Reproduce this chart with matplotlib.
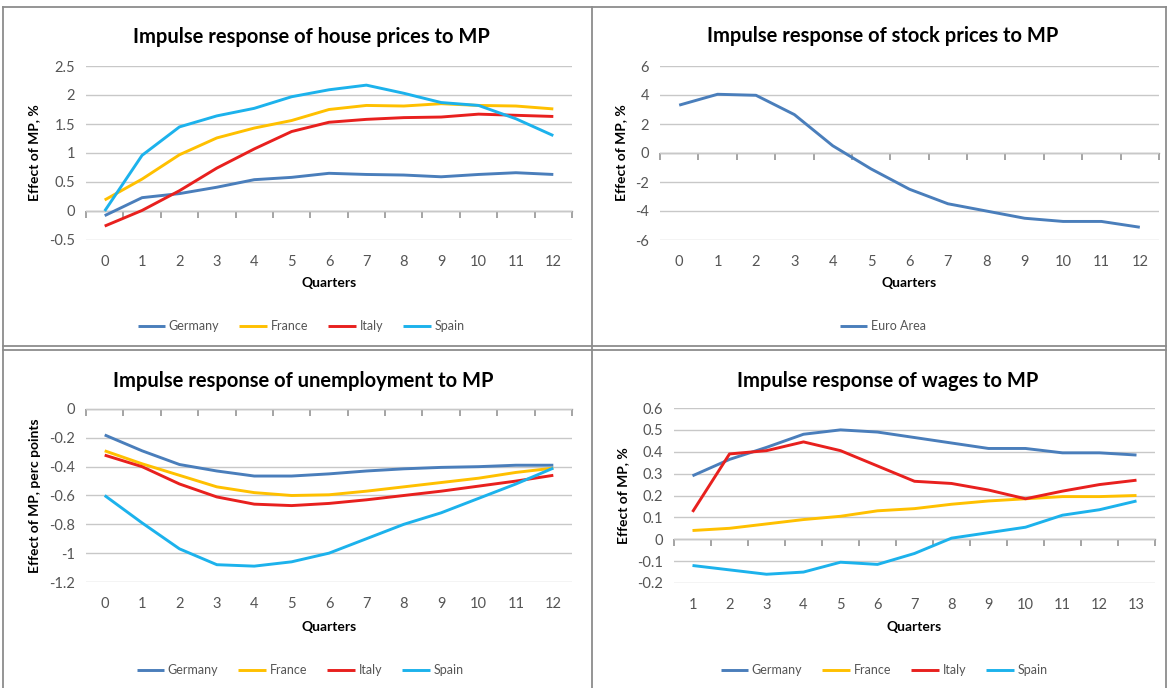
import matplotlib
matplotlib.use("Agg")
import matplotlib.pyplot as plt
from matplotlib.lines import Line2D

plt.rcParams['font.family'] = ['Lato', 'DejaVu Sans']

# ---------------- data ----------------
quarters0 = list(range(0, 13))
quarters1 = list(range(1, 14))

house_germany = [-0.08, 0.23, 0.30, 0.41, 0.54, 0.58, 0.65, 0.63, 0.62, 0.59, 0.63, 0.66, 0.63]
house_france = [0.19, 0.55, 0.97, 1.26, 1.43, 1.56, 1.75, 1.82, 1.81, 1.85, 1.82, 1.81, 1.76]
house_italy = [-0.26, 0.01, 0.35, 0.74, 1.07, 1.37, 1.53, 1.58, 1.61, 1.62, 1.67, 1.65, 1.63]
house_spain = [0.00, 0.96, 1.45, 1.64, 1.77, 1.97, 2.09, 2.17, 2.03, 1.87, 1.82, 1.59, 1.30]

stock_euro = [3.30, 4.05, 3.98, 2.65, 0.50, -1.10, -2.50, -3.50, -4.00, -4.50, -4.72, -4.72, -5.12]

unemp_germany = [-0.18, -0.29, -0.385, -0.43, -0.465, -0.465, -0.45, -0.43, -0.415, -0.405, -0.40, -0.39, -0.39]
unemp_france = [-0.29, -0.38, -0.46, -0.54, -0.58, -0.60, -0.595, -0.57, -0.54, -0.51, -0.48, -0.44, -0.41]
unemp_italy = [-0.32, -0.40, -0.52, -0.61, -0.66, -0.67, -0.655, -0.63, -0.60, -0.57, -0.535, -0.50, -0.46]
unemp_spain = [-0.60, -0.79, -0.97, -1.08, -1.09, -1.06, -1.00, -0.90, -0.80, -0.72, -0.62, -0.52, -0.41]

wage_germany = [0.29, 0.365, 0.42, 0.48, 0.50, 0.49, 0.465, 0.44, 0.415, 0.415, 0.395, 0.395, 0.385]
wage_france = [0.04, 0.05, 0.07, 0.09, 0.105, 0.13, 0.14, 0.16, 0.175, 0.185, 0.195, 0.195, 0.20]
wage_italy = [0.125, 0.39, 0.405, 0.445, 0.405, 0.335, 0.265, 0.255, 0.225, 0.185, 0.22, 0.25, 0.27]
wage_spain = [-0.12, -0.14, -0.16, -0.15, -0.105, -0.115, -0.065, 0.005, 0.03, 0.055, 0.11, 0.135, 0.175]

countries = ['Germany', 'France', 'Italy', 'Spain']
colors = {'Germany': '#4A7EBB', 'France': '#FFC000', 'Italy': '#E8201E',
          'Spain': '#1CB2EC', 'Euro Area': '#4A7EBB'}

W, H = 1168, 688
fig = plt.figure(figsize=(W / 100, H / 100), dpi=100)


def rect(left, right, top, bottom):
    return [left / W, 1 - bottom / H, (right - left) / W, (bottom - top) / H]


def fig_line(x0, y0, x1, y1):
    fig.add_artist(Line2D([x0 / W, x1 / W], [1 - y0 / H, 1 - y1 / H],
                          transform=fig.transFigure, color='#8c8c8c', lw=1.3))


TICK_C = '#555555'


def panel(box, x, series, yticks, ylabel, title, title_xy, xlab_y, legend_xy):
    ax = fig.add_axes(rect(*box))
    for name, vals in series:
        ax.plot(x, vals, color=colors[name], lw=2.1, label=name,
                solid_capstyle='butt', solid_joinstyle='round', zorder=3)
    ax.set_xlim(x[0] - 0.5, x[-1] + 0.5)
    ax.set_ylim(yticks[0], yticks[-1])
    ax.set_yticks(yticks)
    ax.set_yticklabels([('%g' % v) for v in yticks])
    ax.set_xticks(x)
    ax.set_xticklabels([str(v) for v in x])
    for s in ax.spines.values():
        s.set_visible(False)
    ax.grid(axis='y', color='#c8c8c8', lw=1.0)
    ax.set_axisbelow(True)
    ax.tick_params(axis='x', length=0, pad=11, labelsize=10.5, labelcolor=TICK_C)
    ax.tick_params(axis='y', length=0, pad=8, labelsize=10.5, labelcolor=TICK_C)
    # category axis crossing at zero with tick marks between categories
    y0, y1 = yticks[0], yticks[-1]
    loc = (0 - y0) / (y1 - y0)
    sec = ax.secondary_xaxis(loc)
    sec.set_alignment('bottom')
    sec.set_xticks([v - 0.5 for v in x] + [x[-1] + 0.5])
    sec.set_xticklabels([])
    sec.tick_params(direction='out', length=5, color='#8c8c8c', width=1.1)
    for k, s in sec.spines.items():
        s.set_color('#a6a6a6')
        s.set_linewidth(1)
    ax.set_ylabel(ylabel, fontsize=10, fontweight='bold', labelpad=6)
    fig.text(title_xy[0] / W, 1 - title_xy[1] / H, title, ha='center', va='center',
             fontsize=14.5, fontweight='bold')
    cx = (box[0] + box[1]) / 2
    fig.text(cx / W, 1 - xlab_y / H, 'Quarters', ha='center', va='center',
             fontsize=10, fontweight='bold')
    ax.legend(loc='center', bbox_to_anchor=(legend_xy[0] / W, 1 - legend_xy[1] / H),
              bbox_transform=fig.transFigure, ncol=len(series), frameon=False,
              fontsize=9, handlelength=2.2, handletextpad=0.3, columnspacing=1.6,
              labelcolor=TICK_C)
    return ax


panel((86, 572, 66, 240), quarters0,
      [('Germany', house_germany), ('France', house_france),
       ('Italy', house_italy), ('Spain', house_spain)],
      [-0.5, 0, 0.5, 1, 1.5, 2, 2.5], 'Effect of MP, %',
      'Impulse response of house prices to MP', (311, 37), 283, (301, 326))

panel((660, 1159, 66, 240), quarters0,
      [('Euro Area', stock_euro)],
      [-6, -4, -2, 0, 2, 4, 6], 'Effect of MP, %',
      'Impulse response of stock prices to MP', (883, 36), 283, (883, 326))

panel((86, 572, 409, 582), quarters0,
      [('Germany', unemp_germany), ('France', unemp_france),
       ('Italy', unemp_italy), ('Spain', unemp_spain)],
      [-1.2, -1, -0.8, -0.6, -0.4, -0.2, 0], 'Effect of MP, perc points',
      'Impulse response of unemployment to MP', (303, 381), 627, (300, 670))

panel((674, 1155, 408, 583), quarters1,
      [('Germany', wage_germany), ('France', wage_france),
       ('Italy', wage_italy), ('Spain', wage_spain)],
      [-0.2, -0.1, 0, 0.1, 0.2, 0.3, 0.4, 0.5, 0.6], 'Effect of MP, %',
      'Impulse response of wages to MP', (888, 381), 627, (884, 670))

# panel borders
fig_line(3, 7, 1166, 7)
fig_line(3, 7, 3, 688)
fig_line(1166, 7, 1166, 688)
fig_line(592, 7, 592, 688)
fig_line(3, 346, 1166, 346)
fig_line(3, 350, 1166, 350)

fig.savefig('out.png', dpi=100)
